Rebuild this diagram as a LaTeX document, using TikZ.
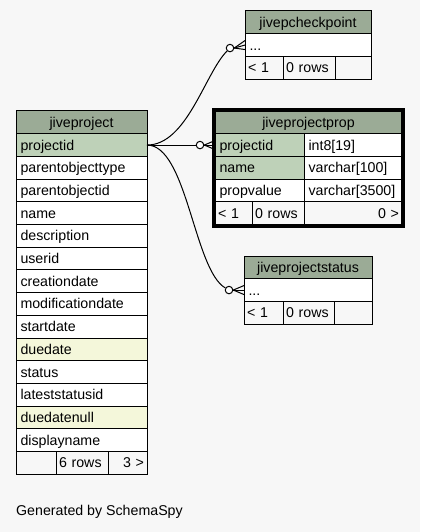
\documentclass[tikz,border=0pt]{standalone}
\usepackage{fontspec}
\setmainfont{Liberation Sans}
\usetikzlibrary{calc}
\usepackage{xcolor}

\definecolor{hdrgreen}{HTML}{9BAB96}
\definecolor{keygreen}{HTML}{BED1B8}
\definecolor{idxyellow}{HTML}{F4F7DA}
\definecolor{bggray}{HTML}{F7F7F7}

\tikzset{
  cell/.style={draw, line width=1pt, fill=white, anchor=north west, inner ysep=0pt,
    inner xsep=4.5pt, outer sep=0pt, minimum height=22.7pt, text height=10pt,
    text depth=0pt, align=left, font=\fontsize{14.2}{16}\selectfont},
  hdr/.style={cell, fill=hdrgreen, align=center},
  foot/.style={cell, fill=bggray, inner xsep=3pt},
  link/.style={line width=1pt},
  dot/.style={circle, draw, fill=white, line width=1pt, inner sep=0pt, minimum size=7.5pt}
}

\begin{document}
\begin{tikzpicture}[x=1pt,y=-1pt]

        % Background
        \fill[bggray] (0,0) rectangle (420,532);
        \useasboundingbox (0,0) rectangle (420,532);

        % jiveproject
        \node[hdr, text width=122pt] (jp0) at (16,111) {jiveproject};
        \foreach \c/\f [count=\i] in {projectid/keygreen, parentobjecttype/white,
          parentobjectid/white, name/white, description/white, userid/white,
          creationdate/white, modificationdate/white, startdate/white,
          duedate/idxyellow, status/white, lateststatusid/white,
          duedatenull/idxyellow, displayname/white}
        {
          \node[cell, fill=\f, text width=122pt] (jp\i) at ($(16,111)+(0,22.7*\i)$) {\c};
        }
        \node[foot, text width=34pt] (jpf1) at ($(16,111)+(0,22.7*15)$) {};
        \node[foot, text width=46pt] (jpf2) at (jpf1.north east) {6 rows};
        \node[foot, text width=33pt, align=right] (jpf3) at (jpf2.north east) {3 >};

        % jivepcheckpoint
        \node[hdr, text width=117pt] (ckp0) at (245,11) {jivepcheckpoint};
        \node[cell, text width=117pt] (ckp1) at (ckp0.south west) {...};
        \node[foot, text width=32pt] (ckpf1) at (ckp1.south west) {< 1};
        \node[foot, text width=46pt] (ckpf2) at (ckpf1.north east) {0 rows};
        \node[foot, text width=30pt] (ckpf3) at (ckpf2.north east) {};

        % jiveprojectprop
        \node[hdr, text width=178pt] (prop0) at (215,111) {jiveprojectprop};
        \foreach \c/\t/\f [count=\i] in {{projectid}/{int8[19]}/keygreen,
          {name}/{varchar[100]}/keygreen, {propvalue}/{varchar[3500]}/white}
        {
          \node[cell, fill=\f, text width=80pt] (prop\i) at ($(215,111)+(0,22.7*\i)$) {\c};
          \node[cell, text width=89pt] (propt\i) at (prop\i.north east) {\t};
        }
        \node[foot, text width=31pt] (propf1) at ($(215,111)+(0,22.7*4)$) {< 1};
        \node[foot, text width=46pt] (propf2) at (propf1.north east) {0 rows};
        \node[foot, text width=92pt, align=right] (propf3) at (propf2.north east) {0 >};
        \draw[line width=4pt] ($(prop0.north west)+(-1,-1)$) rectangle ($(propf3.south east)+(1,1)$);

        % jiveprojectstatus
        \node[hdr, text width=119pt] (stat0) at (244,256) {jiveprojectstatus};
        \node[cell, text width=119pt] (stat1) at (stat0.south west) {...};
        \node[foot, text width=33pt] (statf1) at (stat1.south west) {< 1};
        \node[foot, text width=45pt] (statf2) at (statf1.north east) {0 rows};
        \node[foot, text width=32pt] (statf3) at (statf2.north east) {};

        % Links
        \node[dot] (ckpo) at ($(ckp1.west)+(-15,3)$) {};
        \node[dot] (propo) at ($(prop1.west)+(-15,0)$) {};
        \node[dot] (stato) at ($(stat1.west)+(-15,0)$) {};

        \draw[link] (jp1.east) .. controls +(40,0) and +(-25,25) .. (ckpo);
        \draw[link] (jp1.east) -- (propo);
        \draw[link] (jp1.east) .. controls +(40,0) and +(-35,-20) .. (stato);

        % Crow feet
        \foreach \d in {-4.5,0,4.5}
        {
          \draw[link] (ckpo.east) -- ($(ckp1.west)+(0,\d)$);
          \draw[link] (propo.east) -- ($(prop1.west)+(0,\d)$);
          \draw[link] (stato.east) -- ($(stat1.west)+(0,\d)$);
        }

        % Footer text
        \node[anchor=base west, inner sep=0pt, font=\fontsize{14.2}{16}\selectfont] (gen) at (16,515) {Generated by SchemaSpy};

    \end{tikzpicture}
\end{document}
